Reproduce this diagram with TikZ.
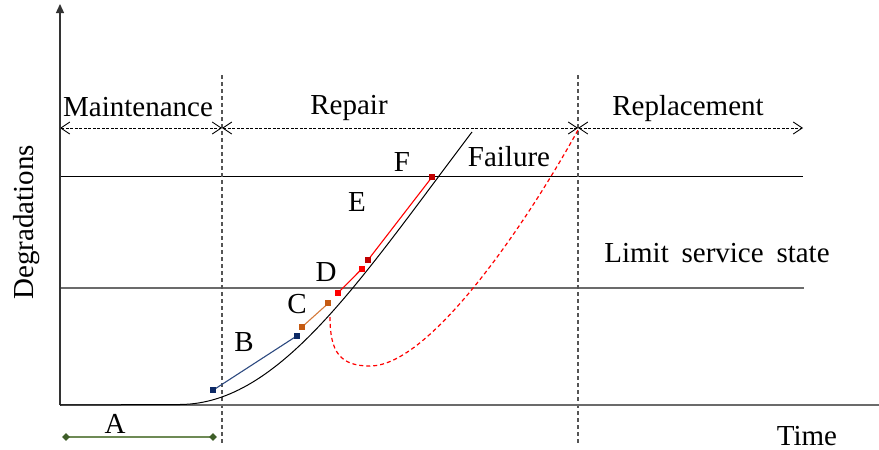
\documentclass[tikz,border=0pt]{standalone}
\usepackage{fontspec}
\setmainfont{Liberation Serif}
\usetikzlibrary{arrows.meta,shapes.geometric}
\definecolor{gline}{HTML}{6E8A55}
\definecolor{gmark}{HTML}{3E5E28}
\definecolor{bmark}{HTML}{0D2A66}
\definecolor{bline}{HTML}{2D4A80}
\definecolor{omark}{HTML}{C55A11}
\definecolor{oline}{HTML}{D47A3A}
\definecolor{rmark}{HTML}{FF0000}
\definecolor{drmark}{HTML}{C00000}
\definecolor{vgray}{HTML}{555555}
\definecolor{agray}{HTML}{6B6B6B}
\begin{document}
\begin{tikzpicture}[x=1pt,y=-1pt,
  lbl/.style={font=\fontsize{29}{32}\selectfont, anchor=base, inner sep=0pt},
  sqmark/.style={rectangle, minimum size=6pt, inner sep=0pt, fill=#1},
  diamark/.style={diamond, minimum size=8pt, inner sep=0pt, fill=#1},
  spanarrow/.style={draw=black, line width=0.9pt, dash pattern=on 3pt off 1.5pt,
    {Straight Barb[length=9pt,width=12pt,line width=0.9pt]}-{Straight Barb[length=9pt,width=12pt,line width=0.9pt]}},
  phase/.style={draw=vgray, line width=1.3pt, dash pattern=on 4pt off 3pt},
  seg/.style={line width=1.1pt}]
\useasboundingbox (0,0) rectangle (879,450);

% coordinates
\coordinate (O) at (60,405);
\coordinate (Ytop) at (60,4);
\coordinate (Xend) at (879,405);
\coordinate (L1a) at (60,176);
\coordinate (L1b) at (803,176);
\coordinate (L2a) at (60,288);
\coordinate (L2b) at (804,288);
\coordinate (V1t) at (222,75);
\coordinate (V1b) at (222,445);
\coordinate (V2t) at (578,75);
\coordinate (V2b) at (578,445);
\coordinate (S0) at (60,128);
\coordinate (S1) at (222,128);
\coordinate (S2) at (578,128);
\coordinate (S3) at (803,128);
\coordinate (Fa) at (180,404.5);
\coordinate (FailEnd) at (472,132);
\coordinate (R0) at (330,317);
\coordinate (R1) at (370,366);
\coordinate (R2) at (578,130);

\coordinate (a1) at (66,437);
\coordinate (a2) at (213,437);
\coordinate (b1) at (213.3,390);
\coordinate (b2) at (296.7,336);
\coordinate (c1) at (302.3,326.7);
\coordinate (c2) at (328.3,303.3);
\coordinate (d1) at (337.7,293.3);
\coordinate (d2) at (361.7,269);
\coordinate (e1) at (368,260);
\coordinate (e2) at (432.3,176.7);

% horizontal reference lines
\draw[black, line width=0.9pt] (L1a) -- (L1b);
\draw[agray, line width=1.2pt] (L2a) -- (L2b);

% phase separators
\draw[phase] (V1t) -- (V1b);
\draw[phase] (V2t) -- (V2b);

% phase spans
\draw[spanarrow] (S0) -- (S1);
\draw[spanarrow] (S1) -- (S2);
\draw[spanarrow] (S2) -- (S3);

% axes
\draw[agray, line width=1.6pt] (O) -- (Xend);
\draw[black!80, line width=1.3pt, -{Triangle[length=9pt,width=8pt]}] (O) -- (Ytop);

% degradation curve
\draw[black, line width=1pt] (O) -- (Fa) .. controls (280,404) and (360,280) .. (FailEnd);

% replacement path
\draw[red, line width=1.2pt, dash pattern=on 4pt off 3pt]
  (R0) .. controls (330,352) and (340,366) .. (R1)
       .. controls (430,366) and (526,224) .. (R2);

% segments
\draw[seg, gline] (a1) -- (a2);
\draw[seg, bline] (b1) -- (b2);
\draw[seg, oline] (c1) -- (c2);
\draw[seg, rmark] (d1) -- (d2);
\draw[seg, red] (e1) -- (e2);

% markers
\node[diamark=gmark] (ma1) at (a1) {};
\node[diamark=gmark] (ma2) at (a2) {};
\node[sqmark=bmark] (mb1) at (b1) {};
\node[sqmark=bmark] (mb2) at (b2) {};
\node[sqmark=omark] (mc1) at (c1) {};
\node[sqmark=omark] (mc2) at (c2) {};
\node[sqmark=rmark] (md1) at (d1) {};
\node[sqmark=rmark] (md2) at (d2) {};
\node[sqmark=drmark] (me1) at (e1) {};
\node[sqmark=drmark] (me2) at (e2) {};

% labels
\node[lbl] (tMaint) at (138,116) {Maintenance};
\node[lbl] (tRepair) at (349,114) {Repair};
\node[lbl] (tRepl) at (688,115) {Replacement};
\node[lbl] (tFail) at (509,166) {Failure};
\node[lbl] (tLimit) at (717,262) {Limit\hspace{0.44em}service\hspace{0.44em}state};
\node[lbl] (tTime) at (807,445) {Time};
\node[lbl, rotate=90] (tDeg) at (33,222.5) {Degradations};
\node[lbl] (tA) at (115,433) {A};
\node[lbl] (tB) at (244,351) {B};
\node[lbl] (tC) at (297,313) {C};
\node[lbl] (tD) at (326,281) {D};
\node[lbl] (tE) at (357,211) {E};
\node[lbl] (tF) at (402,171) {F};
\end{tikzpicture}
\end{document}
